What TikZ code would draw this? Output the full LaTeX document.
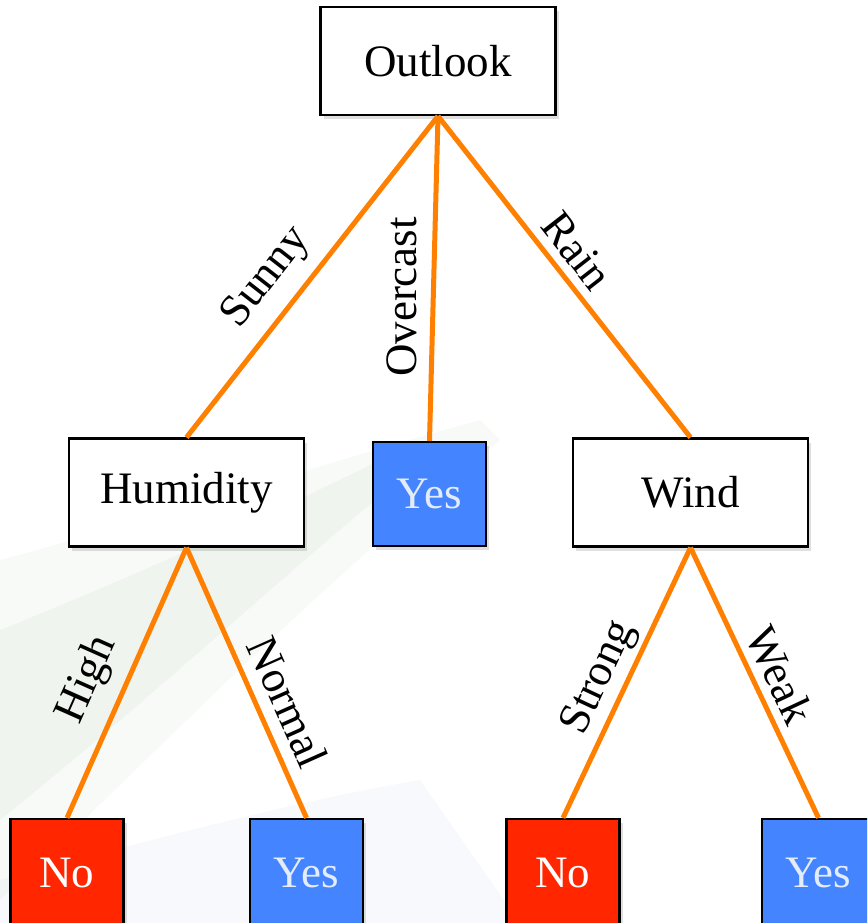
\documentclass[tikz,border=0pt]{standalone}
\usepackage{fontspec}
\setmainfont{Liberation Serif}
\usetikzlibrary{shadows}
\definecolor{edgeorange}{RGB}{255,128,0}
\definecolor{leafred}{RGB}{255,38,0}
\definecolor{leafblue}{RGB}{68,133,255}
\definecolor{yestext}{RGB}{228,236,248}
\definecolor{bggreen}{RGB}{120,160,110}
\definecolor{bgblue}{RGB}{120,150,200}
\begin{document}
\begin{tikzpicture}[x=1pt,y=-1pt,
  bigfont/.style={font=\fontsize{45}{52}\selectfont},
  attrbox/.style={draw=black, line width=2.2pt, fill=white, bigfont, minimum width=235pt, minimum height=108pt, inner sep=0pt,
    drop shadow={opacity=0.25, shadow xshift=3pt, shadow yshift=-4pt}},
  leafbox/.style={draw=black, line width=2.2pt, bigfont, minimum width=113pt, minimum height=104pt, inner sep=0pt,
    drop shadow={opacity=0.25, shadow xshift=3pt, shadow yshift=-4pt}},
  yesbox/.style={leafbox, fill=leafblue, text=yestext},
  nobox/.style={leafbox, fill=leafred, text=white},
  edge/.style={draw=edgeorange, line width=5pt},
  elabel/.style={bigfont, inner sep=0pt}
]
\useasboundingbox (0,0) rectangle (867,923);
\clip (0,0) rectangle (867,923);
% faint background swoosh
\fill[bggreen, opacity=0.07] (0,630) .. controls (150,570) and (300,500) .. (380,460) -- (400,480) .. controls (300,560) and (150,700) .. (0,820) -- cycle;
\fill[bggreen, opacity=0.05] (0,560) .. controls (150,520) and (300,470) .. (480,420) -- (500,440) .. controls (300,600) and (150,760) .. (0,900) -- cycle;
\fill[bgblue, opacity=0.06] (0,923) -- (0,880) .. controls (150,840) and (300,800) .. (420,780) -- (520,923) -- cycle;

% nodes
\node[attrbox] (outlook) at (438,61) {Outlook};
\node[attrbox] (humidity) at (186.5,492.5) {Humidity};
\node[yesbox] (yes1) at (429.5,494) {Yes};
\node[attrbox] (wind) at (690.5,492.5) {Wind};
\node[nobox, minimum height=130pt] (no1) at (67,884) {};
\node[yesbox, minimum height=130pt] (yes2) at (306.5,884) {};
\node[nobox, minimum height=130pt] (no2) at (563,884) {};
\node[yesbox, minimum height=130pt] (yes3) at (818.5,884) {};
\node[bigfont, text=white] (no1t) at (67,873) {No};
\node[bigfont, text=yestext] (yes2t) at (306.5,873) {Yes};
\node[bigfont, text=white] (no2t) at (563,873) {No};
\node[bigfont, text=yestext] (yes3t) at (818.5,873) {Yes};

% connectors
\draw[edge] (outlook.south) -- (humidity.north);
\draw[edge] (outlook.south) -- (yes1.north);
\draw[edge] (outlook.south) -- (wind.north);
\draw[edge] (humidity.south) -- (no1.north);
\draw[edge] (humidity.south) -- (yes2.north);
\draw[edge] (wind.south) -- (no2.north);
\draw[edge] (wind.south) -- (yes3.north);

% edge labels
\node[elabel, rotate=52] (lsunny) at (267,278) {Sunny};
\node[elabel, rotate=90] (lovercast) at (402,297) {Overcast};
\node[elabel, rotate=-52] (lrain) at (577,251) {Rain};
\node[elabel, rotate=66] (lhigh) at (88,680) {High};
\node[elabel, rotate=-66] (lnormal) at (288,702) {Normal};
\node[elabel, rotate=65] (lstrong) at (600,678) {Strong};
\node[elabel, rotate=-65] (lweak) at (780,675) {Weak};
\end{tikzpicture}
\end{document}
